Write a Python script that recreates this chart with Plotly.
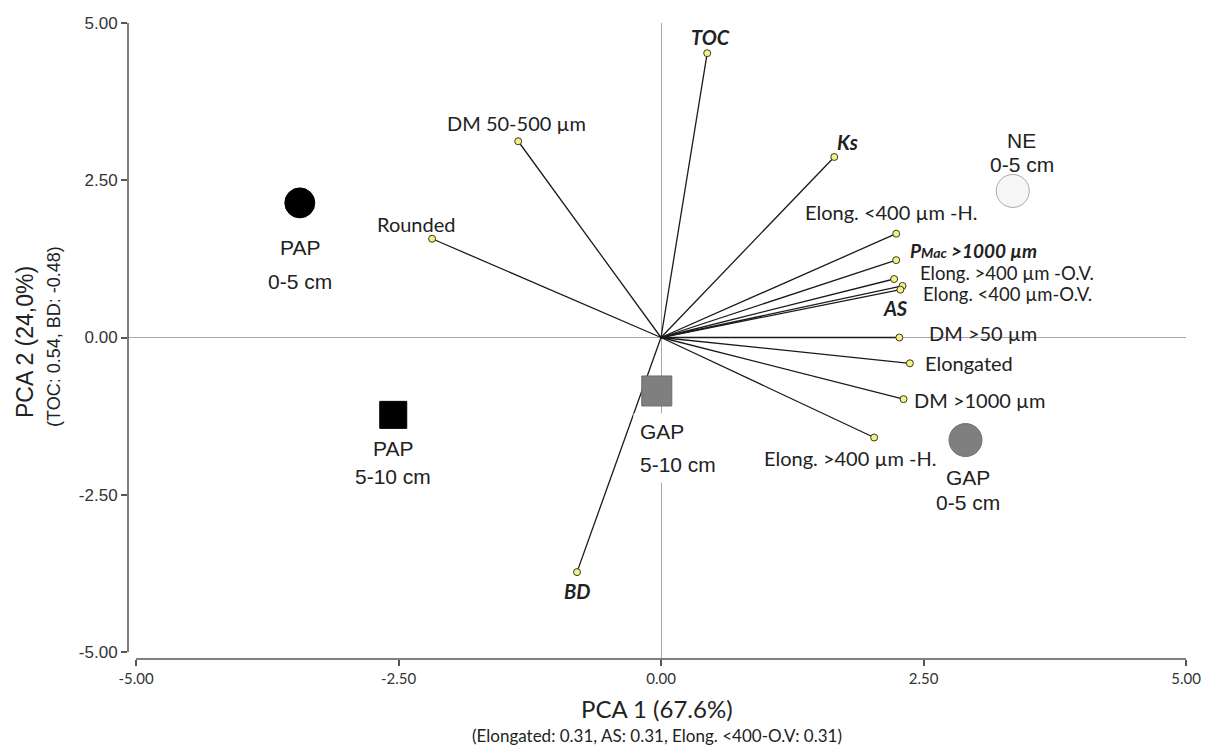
import plotly.graph_objects as go

# ---- data ----
var_names = ["TOC", "Ks", "DM 50-500 µm", "Rounded", "Elong. <400 µm -H.",
             "P<span style='font-size:14px'>Mac</span> >1000 µm", "Elong. >400 µm -O.V.",
             "Elong. <400 µm-O.V.", "AS", "DM >50 µm", "Elongated", "DM >1000 µm",
             "Elong. >400 µm -H.", "BD"]
var_pc1 = [0.44, 1.65, -1.36, -2.18, 2.24, 2.24, 2.22, 2.30, 2.28, 2.27, 2.37, 2.31, 2.03, -0.80]
var_pc2 = [4.52, 2.87, 3.12, 1.57, 1.65, 1.23, 0.93, 0.82, 0.76, 0.00, -0.41, -0.98, -1.59, -3.73]
var_bold = [True, True, False, False, False, True, False, False, True, False, False, False, False, True]

grp_names = ["PAP", "PAP", "GAP", "GAP", "NE"]
grp_depth = ["0-5 cm", "5-10 cm", "5-10 cm", "0-5 cm", "0-5 cm"]
grp_pc1 = [-3.44, -2.55, -0.04, 2.90, 3.35]
grp_pc2 = [2.14, -1.23, -0.85, -1.63, 2.33]

x_ticks = [-5.0, -2.5, 0.0, 2.5, 5.0]
y_ticks = [-5.0, -2.5, 0.0, 2.5, 5.0]

# ---- styles ----
var_lab = [  # xanchor, xshift, yshift (pixels), font size
    ("center", 3, 16, 20), ("center", 13, 15, 20), ("center", -2, 18, 20), ("center", -16, 15, 20),
    ("center", -5, 22, 20), ("left", 12, 10, 19), ("left", 24, 6, 18.5), ("left", 18, -8, 18.5),
    ("center", -5, -18, 20), ("left", 28, 5, 20), ("left", 13, 0, 20), ("left", 8, -1, 20),
    ("center", -24, -20, 20), ("center", 0, -19, 20)]
grp_style = [
    dict(symbol="circle", size=30, color="#000000", line="#000000", lab=(0, -45, -79, "center")),
    dict(symbol="square", size=27, color="#000000", line="#000000", lab=(0, -34, -62, "center")),
    dict(symbol="square", size=30, color="#7f7f7f", line="#6a6a6a", lab=(-24, -41, -74, "left")),
    dict(symbol="circle", size=33, color="#7f7f7f", line="#6e6e6e", lab=(2, -37, -62, "center")),
    dict(symbol="circle", size=33, color="#f6f6f6", line="#a8a8a8", lab=(9, 50, 26, "center")),
]

# page body has an 8px margin, figure sized so it fits the 1210x747 window
W, H = 1202, 739
L, R, T, B = 120, 24, 15, 88
PW, PH = W - L - R, H - T - B
# axis lines are detached from the plot area (offset axes)
x_range = [-5 - 8 / 105.0, 5]
y_range = [-5 - 7 / 62.9, 5]

fig = go.Figure()

for i in range(len(var_names)):
    fig.add_trace(go.Scatter(x=[0, var_pc1[i]], y=[0, var_pc2[i]], mode="lines",
                             line=dict(color="#1a1a1a", width=1.3), showlegend=False,
                             hoverinfo="skip"))
fig.add_trace(go.Scatter(x=var_pc1, y=var_pc2, mode="markers",
                         marker=dict(size=7, color="#f2f08a", line=dict(color="#3a3a1a", width=1)),
                         showlegend=False))

for i in range(len(grp_names)):
    s = grp_style[i]
    fig.add_trace(go.Scatter(x=[grp_pc1[i]], y=[grp_pc2[i]], mode="markers",
                             marker=dict(symbol=s["symbol"], size=s["size"], color=s["color"],
                                         line=dict(color=s["line"], width=1)),
                             showlegend=False))

ann = []
for i in range(len(var_names)):
    xa, xs, ys, size = var_lab[i]
    t = var_names[i]
    if var_bold[i]:
        t = "<b><i>" + t + "</i></b>"
    ann.append(dict(x=var_pc1[i], y=var_pc2[i], text=t, showarrow=False, xanchor=xa,
                    yanchor="middle", xshift=xs, yshift=ys,
                    font=dict(family="Lato, Liberation Sans, sans-serif", size=size, color="#222222")))

for i in range(len(grp_names)):
    xs, y1, y2, xa = grp_style[i]["lab"]
    bg = "white" if i == 2 else None
    for txt, ys in ((grp_names[i], y1), (grp_depth[i], y2)):
        d = dict(x=grp_pc1[i], y=grp_pc2[i], text=txt, showarrow=False, xanchor=xa,
                 yanchor="middle", xshift=xs, yshift=ys,
                 font=dict(family="Liberation Sans, Arial, sans-serif", size=21, color="#222222"))
        if bg:
            d["bgcolor"] = bg
            d["borderpad"] = 6
        ann.append(d)

# axis titles
ann.append(dict(xref="paper", yref="paper", x=0.5, y=-49 / PH,
                text="PCA 1 (67.6%)", showarrow=False, xanchor="center", yanchor="middle",
                font=dict(family="Lato, sans-serif", size=24, color="#222222")))
ann.append(dict(xref="paper", yref="paper", x=0.5, y=-76 / PH,
                text="(Elongated: 0.31, AS: 0.31, Elong. <400-O.V: 0.31)", showarrow=False,
                xanchor="center", yanchor="middle",
                font=dict(family="Lato, sans-serif", size=17, color="#222222")))
ann.append(dict(xref="paper", yref="paper", x=(25 - 128) / PW, y=(659 - 342) / PH,
                text="PCA 2 (24,0%)", showarrow=False, textangle=-90, xanchor="center",
                yanchor="middle",
                font=dict(family="Liberation Sans, Arial, sans-serif", size=23, color="#222222")))
ann.append(dict(xref="paper", yref="paper", x=(54 - 128) / PW, y=(659 - 337) / PH,
                text="(TOC: 0.54, BD: -0.48)", showarrow=False, textangle=-90, xanchor="center",
                yanchor="middle",
                font=dict(family="Liberation Sans, Arial, sans-serif", size=18, color="#222222")))

axis_col = "#555555"
shapes = [
    dict(type="line", xref="x", yref="paper", x0=x_ticks[0], x1=x_ticks[-1], y0=0, y1=0,
         line=dict(color=axis_col, width=1.5)),
    dict(type="line", xref="paper", yref="y", x0=0, x1=0, y0=y_ticks[0], y1=y_ticks[-1],
         line=dict(color=axis_col, width=1.5)),
]

fig.update_layout(
    width=W, height=H, margin=dict(l=L, r=R, t=T, b=B),
    paper_bgcolor="white", plot_bgcolor="white", annotations=ann, shapes=shapes,
    xaxis=dict(range=x_range, tickvals=x_ticks, ticktext=[f"{v:.2f}" for v in x_ticks],
               showgrid=False, zeroline=True, zerolinecolor="#a8a8a8", zerolinewidth=1,
               showline=False, ticks="outside", automargin=False,
               ticklen=6, tickcolor=axis_col, tickwidth=1.5,
               tickfont=dict(family="Lato, sans-serif", size=15, color="#333333")),
    yaxis=dict(range=y_range, tickvals=y_ticks, ticktext=[f"{v:.2f}" for v in y_ticks],
               showgrid=False, zeroline=True, zerolinecolor="#a8a8a8", zerolinewidth=1,
               showline=False, ticks="outside", automargin=False,
               ticklen=6, tickcolor=axis_col, tickwidth=1.5,
               tickfont=dict(family="Liberation Sans, Arial, sans-serif", size=17, color="#333333")),
)

fig.write_html("out.html")
